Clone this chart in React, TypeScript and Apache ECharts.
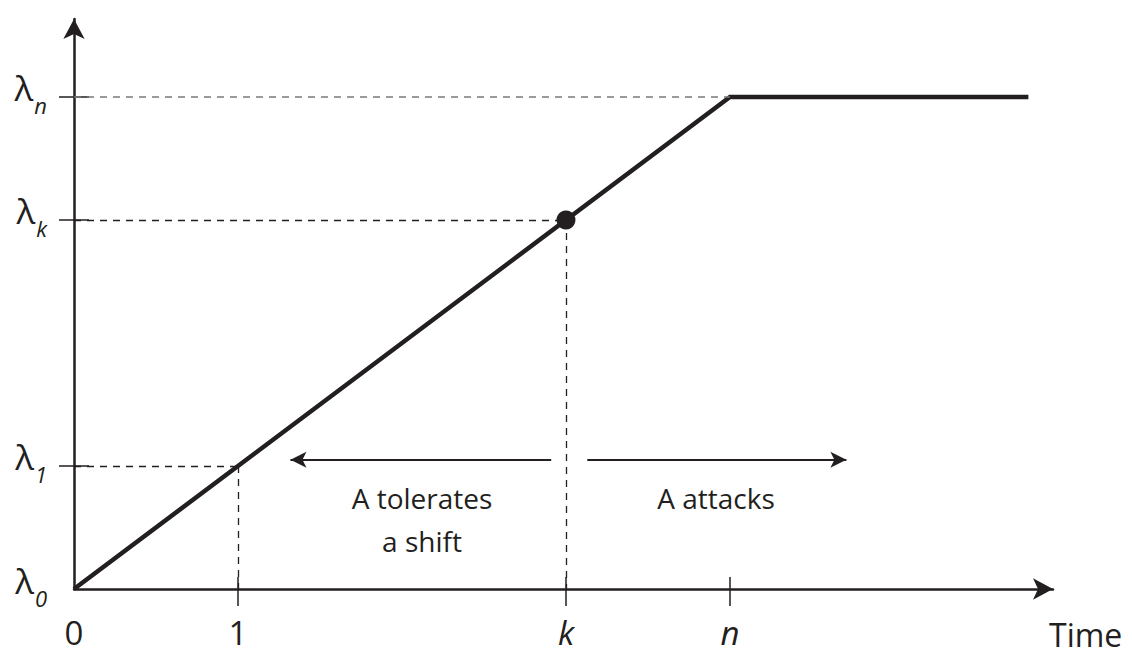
import React, { useEffect, useRef } from "react";
import * as echarts from "echarts";

// ---- data (axis units) ----
const xTickValues = [0, 1, 3, 4];
const xTickLabels = ["0", "1", "k", "n"];
const xTickItalic = [false, false, true, true];
const yTickValues = [0, 1, 3, 4];
const yTickSubs = ["0", "1", "k", "n"];
const linePoints: number[][] = [
  [0, 0],
  [4, 4],
  [5.82, 4],
];
const markedPoint: number[] = [3, 3];
const guideLines: number[][][] = [
  [[0, 4], [4, 4]],
  [[0, 3], [3, 3]],
  [[3, 3], [3, 0]],
  [[0, 1], [1, 1]],
  [[1, 1], [1, 0]],
];
const arrowLines: number[][][] = [
  [[2.91, 1.05], [1.32, 1.05]],
  [[3.13, 1.05], [4.71, 1.05]],
];
const annotationTexts = ["A tolerates\na shift", "A attacks"];
const axisName = "Time";

const INK = "#231f20";
const FONT = "'Open Sans', 'Noto Sans', sans-serif";

export default function App() {
  const ref = useRef<HTMLDivElement>(null);
  useEffect(() => {
    if (!ref.current) return;
    const chart = echarts.init(ref.current, null, { renderer: "svg" });
    const tickLabelFmt = (v: number) => {
      const i = xTickValues.indexOf(v);
      if (i < 0) return "";
      return xTickItalic[i] ? `{i|${xTickLabels[i]}}` : `{r|${xTickLabels[i]}}`;
    };
    const yLabelFmt = (v: number) => {
      const i = yTickValues.indexOf(v);
      if (i < 0) return "";
      return `{l|λ}{s|${yTickSubs[i]}}`;
    };
    const X_MAX = 5.97;
    const Y_MAX = 4.634;
    const option: any = {
      animation: false,
      backgroundColor: "#ffffff",
      grid: { left: 74, right: 79, top: 19, bottom: 65, containLabel: false },
      xAxis: [
        {
          type: "value",
          min: 0,
          max: X_MAX,
          position: "bottom",
          splitLine: { show: false },
          axisLine: {
            show: true,
            onZero: false,
            symbol: ["none", "arrow"],
            symbolSize: [16, 20],
            lineStyle: { color: INK, width: 2.5 },
          },
          axisTick: {
            show: true,
            customValues: [1, 3, 4],
            length: 17,
            lineStyle: { color: INK, width: 1.5 },
          },
          axisLabel: {
            show: true,
            customValues: xTickValues,
            formatter: tickLabelFmt,
            margin: 27,
            color: INK,
            rich: {
              r: { fontSize: 33, lineHeight: 33, fontFamily: FONT, color: INK },
              i: { fontSize: 33, lineHeight: 33, fontFamily: FONT, fontStyle: "italic", color: INK },
            },
          },
        },
        {
          type: "value",
          min: 0,
          max: X_MAX,
          position: "bottom",
          splitLine: { show: false },
          axisLine: { show: false, onZero: false },
          axisTick: {
            show: true,
            inside: true,
            customValues: [1, 3, 4],
            length: 12,
            lineStyle: { color: INK, width: 1.5 },
          },
          axisLabel: { show: false },
        },
      ],
      yAxis: [
        {
          type: "value",
          min: 0,
          max: Y_MAX,
          position: "left",
          splitLine: { show: false },
          axisLine: {
            show: true,
            onZero: false,
            symbol: ["none", "arrow"],
            symbolSize: [16, 20],
            lineStyle: { color: INK, width: 2.5 },
          },
          axisTick: {
            show: true,
            customValues: [1, 3, 4],
            length: 15,
            lineStyle: { color: INK, width: 1.5 },
          },
          axisLabel: {
            show: true,
            customValues: yTickValues,
            formatter: yLabelFmt,
            margin: 27,
            color: INK,
            rich: {
              l: { fontSize: 35, fontFamily: FONT, color: INK, padding: [0, 0, 18, 0] },
              s: {
                fontSize: 22,
                fontFamily: FONT,
                fontStyle: "italic",
                color: INK,
                padding: [17, 0, 0, 1],
              },
            },
          },
        },
        {
          type: "value",
          min: 0,
          max: Y_MAX,
          position: "left",
          splitLine: { show: false },
          axisLine: { show: false, onZero: false },
          axisTick: {
            show: true,
            inside: true,
            customValues: [1, 3, 4],
            length: 15,
            lineStyle: { color: INK, width: 1.5 },
          },
          axisLabel: { show: false },
        },
      ],
      series: [
        {
          type: "line",
          name: "guides",
          data: [],
          silent: true,
          markLine: {
            silent: true,
            symbol: ["none", "none"],
            label: { show: false },
            lineStyle: { type: [7, 6], color: INK, width: 1.3 },
            data: guideLines.map((seg, i) => [
              {
                coord: seg[0],
                lineStyle: i === 0 ? { color: "#7a7a7a", type: [7, 6], width: 1.5 } : undefined,
              },
              { coord: seg[1] },
            ]),
          },
        },
        {
          type: "line",
          name: "arrows",
          data: [],
          silent: true,
          markLine: {
            silent: true,
            symbol: ["none", "arrow"],
            symbolSize: [12, 16],
            label: { show: false },
            lineStyle: { type: "solid", color: INK, width: 2 },
            data: arrowLines.map((seg) => [{ coord: seg[0] }, { coord: seg[1] }]),
          },
        },
        {
          type: "line",
          name: "lambda",
          data: linePoints,
          showSymbol: false,
          lineStyle: { color: INK, width: 4.5, join: "miter" },
          silent: true,
        },
        {
          type: "scatter",
          name: "k",
          data: [markedPoint],
          symbol: "circle",
          symbolSize: 19,
          itemStyle: { color: INK, opacity: 1 },
          silent: true,
          z: 5,
        },
      ],
      graphic: [
        {
          type: "text",
          x: 422,
          y: 476,
          style: {
            text: annotationTexts[0],
            textAlign: "center",
            textVerticalAlign: "top",
            fontSize: 28,
            lineHeight: 43,
            fontFamily: FONT,
            fill: INK,
          },
        },
        {
          type: "text",
          x: 716,
          y: 476,
          style: {
            text: annotationTexts[1],
            textAlign: "center",
            textVerticalAlign: "top",
            fontSize: 28,
            lineHeight: 43,
            fontFamily: FONT,
            fill: INK,
          },
        },
        {
          type: "text",
          x: 1049,
          y: 634,
          style: {
            text: axisName,
            textVerticalAlign: "middle",
            fontSize: 32,
            lineHeight: 32,
            fontFamily: FONT,
            fill: INK,
          },
        },
      ],
    };
    chart.setOption(option);
    return () => chart.dispose();
  }, []);
  return (
    <div
      ref={ref}
      style={{ position: "absolute", left: 0, top: 0, width: 1132, height: 654, background: "#fff" }}
    />
  );
}
